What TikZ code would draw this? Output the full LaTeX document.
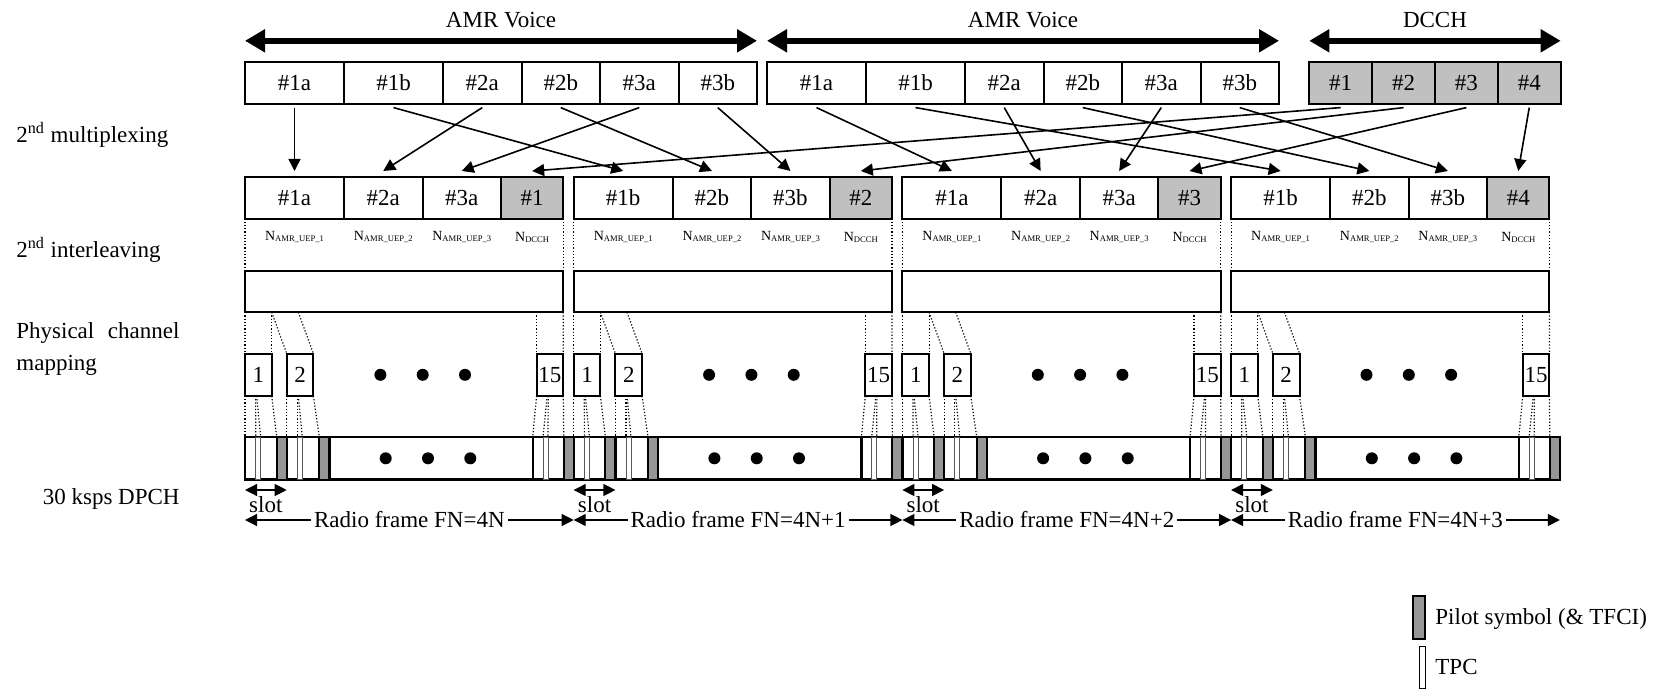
\documentclass[tikz,border=0pt]{standalone}
\usepackage{fontspec}
\setmainfont{Liberation Serif}
\usetikzlibrary{arrows.meta}
\definecolor{dcchgray}{RGB}{192,192,192}
\definecolor{pilotgray}{RGB}{150,150,150}
\newcommand{\nsub}[1]{N\raisebox{-0.5pt}{\fontsize{4.3}{5}\selectfont #1}}

\begin{document}
\begin{tikzpicture}[x=0.5pt, y=-0.5pt, font=\fontsize{11.5}{16}\selectfont,
    cell/.style={draw, line width=1pt, minimum height=20.8pt, inner sep=0pt, outer sep=0pt, anchor=north west},
    dcch/.style={cell, fill=dcchgray},
    slotbox/.style={cell, minimum width=13.35pt, minimum height=21.15pt},
    barcell/.style={draw, line width=1.2pt, minimum height=21.25pt, inner sep=0pt, outer sep=0pt, anchor=north west},
    tpc/.style={draw=gray!70!black, line width=0.5pt, fill=white, minimum width=2.5pt, minimum height=21.25pt, inner sep=0pt, outer sep=0pt, anchor=north west},
    pilot/.style={draw, line width=1pt, fill=pilotgray, minimum width=5pt, minimum height=21.25pt, inner sep=0pt, outer sep=0pt, anchor=north west},
    nlab/.style={font=\fontsize{7}{8}\selectfont, inner sep=0pt},
    lefttext/.style={inner sep=0pt},
    bigdot/.style={circle, fill, inner sep=0pt, minimum size=6pt},
    bigarr/.style={{Triangle[length=10pt,width=11pt]}-{Triangle[length=10pt,width=11pt]}, line width=3pt},
    maparr/.style={-{Triangle[length=6pt,width=6pt]}, line width=0.8pt},
    spanarr/.style={{Triangle[length=6pt,width=6pt]}-{Triangle[length=6pt,width=6pt]}, line width=0.6pt},
    dotline/.style={dash pattern=on 0.6pt off 1pt, line width=0.6pt}]
\useasboundingbox (0,0) rectangle (1657,689);

% first row: AMR voice blocks and DCCH blocks
\foreach \g/\x in {a/245, b/767} {
  \foreach \i/\o/\w/\t in {1/0/99/1a, 2/99/99/1b, 3/198/78.5/2a, 4/276.5/78.5/2b, 5/355/78.5/3a, 6/433.5/78.5/3b}
    \node[cell, minimum width=\w*0.5pt] (\g\i) at (\x+\o,62) {\#\t};
}
\foreach \i in {1,...,4}
  \node[dcch, minimum width=31.4pt] (d\i) at (1309.3+62.85*\i-62.85,62) {\#\i};

\draw[bigarr] ([yshift=10.6pt]a1.north west) -- ([yshift=10.6pt]a6.north east) node[midway, yshift=10.4pt] (va) {AMR Voice};
\draw[bigarr] ([yshift=10.6pt]b1.north west) -- ([yshift=10.6pt]b6.north east) node[midway, yshift=10.4pt] (vb) {AMR Voice};
\draw[bigarr] ([yshift=10.6pt]d1.north west) -- ([yshift=10.6pt]d4.north east) node[midway, yshift=10.4pt] (vd) {DCCH};

% left labels
\node[lefttext, anchor=west] (lmux) at (16,135) {2\textsuperscript{nd} multiplexing};
\node[lefttext, anchor=west] (lint) at (16,250) {2\textsuperscript{nd} interleaving};
\node[lefttext, anchor=west, text width=81.5pt, align=justify] (lmap) at (16,349) {Physical channel mapping};
\node[lefttext, anchor=east] (ldpch) at (180,499) {30 ksps DPCH};

% one radio frame per column
\foreach \k/\x/\s/\fn in {1/245/a/4N, 2/573.7/b/4N+1, 3/902.4/a/4N+2, 4/1231.1/b/4N+3} {
  % 2nd multiplexing
  \node[cell, minimum width=49.5pt] (m\k1) at (\x,177) {\#1\s};
  \node[cell, minimum width=39.25pt] (m\k2) at (\x+99,177) {\#2\s};
  \node[cell, minimum width=39.25pt] (m\k3) at (\x+177.5,177) {\#3\s};
  \node[dcch, minimum width=31.15pt] (m\k4) at (\x+256,177) {\#\k};
  \node[nlab] (n\k1) at ([yshift=-9.2pt]m\k1.south) {\nsub{AMR\_UEP\_1}};
  \node[nlab] (n\k2) at ([yshift=-9.2pt]m\k2.south) {\nsub{AMR\_UEP\_2}};
  \node[nlab] (n\k3) at ([yshift=-9.2pt]m\k3.south) {\nsub{AMR\_UEP\_3}};
  \node[nlab] (n\k4) at ([yshift=-9.2pt]m\k4.south) {\nsub{DCCH}};

  % 2nd interleaving
  \node[cell, minimum width=159.15pt] (il\k) at (\x,270.7) {};
  \draw[dotline] (m\k1.south west) -- (il\k.north west);
  \draw[dotline] (m\k4.south east) -- (il\k.north east);

  % physical channel mapping
  \node[slotbox] (s\k-1) at (\x,353.7) {1};
  \node[slotbox] (s\k-2) at (\x+41.7,353.7) {2};
  \node[slotbox] (s\k-15) at (\x+291.6,353.7) {15};
  \foreach \d [count=\j] in {135.4,177.7,220}
    \node[bigdot] (sd\k\j) at (\x+\d,374.8) {};
  \draw[dotline] (il\k.south west) -- (s\k-1.north west);
  \draw[dotline] ([xshift=13.35pt]il\k.south west) -- (s\k-1.north east);
  \draw[dotline] ([xshift=13.35pt]il\k.south west) -- (s\k-2.north west);
  \draw[dotline] ([xshift=26.65pt]il\k.south west) -- (s\k-2.north east);
  \draw[dotline] (s\k-15.north west |- il\k.south) -- (s\k-15.north west);
  \draw[dotline] (il\k.south east) -- (s\k-15.north east);

  % 30 ksps DPCH
  \node[barcell, minimum width=164.35pt] (bar\k) at (\x,437) {};
  \node[barcell, minimum width=20.85pt] (bs\k-1) at (\x,437) {};
  \node[barcell, minimum width=21.3pt] (bs\k-2) at (\x+41.7,437) {};
  \node[barcell, minimum width=20.5pt] (bs\k-15) at (\x+287.7,437) {};
  \node[tpc] (tp\k-1) at (\x+10.7,437) {};
  \node[tpc] (tp\k-2) at (\x+52.3,437) {};
  \node[tpc] (tp\k-15) at (\x+298,437) {};
  \node[pilot] (pl\k-1) at (\x+31.7,437) {};
  \node[pilot] (pl\k-2) at (\x+74.3,437) {};
  \node[pilot] (pl\k-15) at (\x+318.7,437) {};
  \foreach \d [count=\j] in {140.7,183,225.3}
    \node[bigdot] (bd\k\j) at (\x+\d,458.3) {};
  \foreach \q in {1,2,15} {
    \draw[dotline] (s\k-\q.south west) -- (bs\k-\q.north west);
    \draw[dotline] ([xshift=5.3pt]s\k-\q.south west) -- (tp\k-\q.north west);
    \draw[dotline] ([xshift=5.8pt]s\k-\q.south west) -- (tp\k-\q.north east);
    \draw[dotline] (s\k-\q.south east) -- (pl\k-\q.north west);
  }

  % slot and frame lengths
  \draw[spanarr] ([yshift=-5.25pt]bs\k-1.south west) -- ([yshift=-5.25pt]bs\k-1.south east);
  \node (sl\k) at ([yshift=-12.8pt]bs\k-1.south) {slot};
  \draw[spanarr] ([yshift=-20.25pt]bar\k.south west) -- ([yshift=-20.25pt]bar\k.south east)
    node[midway, fill=white, inner ysep=0pt, inner xsep=1.5pt] (rf\k) {Radio frame FN=\fn};
}

% 2nd multiplexing: block to position
\foreach \s/\t in {a1/m11, a2/m21, a3/m12, a4/m22, a5/m13, a6/m23,
                   b1/m31, b2/m41, b3/m32, b4/m42, b5/m33, b6/m43,
                   d1/m14, d2/m24, d3/m34, d4/m44}
  \draw[maparr] ([yshift=-2pt]\s.south) -- ([yshift=3pt]\t.north);

% legend
\node[pilot, minimum width=6pt, minimum height=21.5pt] (lgp) at (1413,596) {};
\node[lefttext, anchor=west] (lgpt) at (1435,619) {Pilot symbol (\& TFCI)};
\node[tpc, draw=black, minimum width=3pt, minimum height=21pt] (lgt) at (1419,646) {};
\node[lefttext, anchor=west] (lgtt) at (1435,667) {TPC};
\end{tikzpicture}
\end{document}
